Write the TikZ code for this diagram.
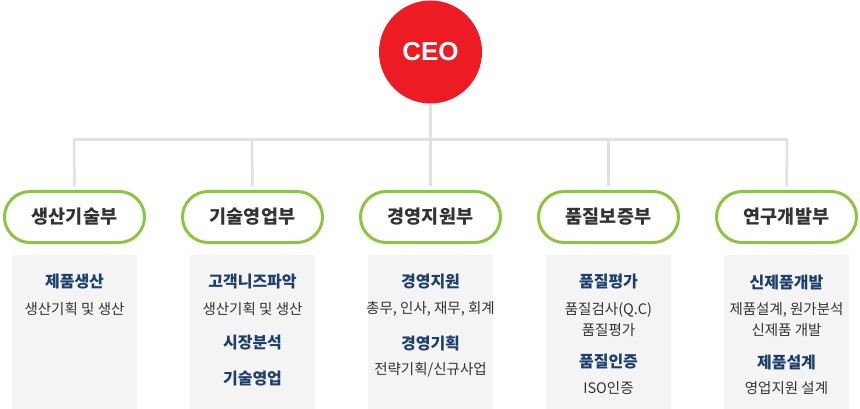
\documentclass[tikz,border=0pt]{standalone}
\usepackage{fontspec}
\usepackage{xcolor}
\setmainfont{Noto Sans CJK KR}
\newfontfamily\ceofont{Liberation Sans}

\definecolor{ceored}{HTML}{ED1C24}
\definecolor{pillgreen}{HTML}{8CC63F}
\definecolor{linegray}{HTML}{E1E1E1}
\definecolor{boxgray}{HTML}{F4F4F4}
\definecolor{headblue}{HTML}{1C3F6E}
\definecolor{textdark}{HTML}{333333}

\tikzset{
  dept/.style={draw=pillgreen, line width=3pt, fill=white, rounded corners=25.5pt,
    minimum width=140pt, minimum height=51pt, inner sep=0pt, outer sep=0pt,
    font=\fontsize{18.5}{20}\selectfont\bfseries, text=textdark},
  taskbox/.style={fill=boxgray, minimum width=125pt, minimum height=154pt,
    inner sep=0pt, outer sep=0pt, anchor=north},
  head/.style={font=\fontsize{16}{18}\selectfont\bfseries, text=headblue, inner sep=0pt},
  body/.style={font=\fontsize{14.5}{16}\selectfont, text=textdark, inner sep=0pt},
  link/.style={draw=linegray, line width=2.5pt}
}

\begin{document}
\begin{tikzpicture}[x=1pt, y=-1pt]

    \useasboundingbox (0,0) rectangle (860,409);

    % Draw the CEO
    \node[circle, fill=ceored, minimum size=103pt, inner sep=0pt, text=white,
      font=\ceofont\fontsize{26}{28}\selectfont\bfseries] (ceo) at (430.5,52) {CEO};

    % Bus line
    \coordinate (bus1) at (74,139.5);
    \coordinate (bus2) at (252,139.5);
    \coordinate (bus3) at (430.5,139.5);
    \coordinate (bus4) at (608.5,139.5);
    \coordinate (bus5) at (787,139.5);

    % Departments
    \node[dept] (d1) at (74.5,217) {생산기술부};
    \node[dept] (d2) at (252.5,217) {기술영업부};
    \node[dept] (d3) at (430.5,217) {경영지원부};
    \node[dept] (d4) at (608.5,217) {품질보증부};
    \node[dept] (d5) at (786.5,217) {연구개발부};

    \draw[link] (ceo.south) -- (bus3);
    \draw[link, line cap=rect] (bus1) -- (bus5);
    \foreach \i in {1,...,5} {
        \draw[link, shorten >=5pt] (bus\i) -- (d\i.north);
    }

    % Gray boxes
    \foreach \i/\x in {1/74.5, 2/252.5, 3/430.5, 4/608.5, 5/786.5} {
        \node[taskbox] (b\i) at (\x,255) {};
    }

    % Box texts
    \node[head] (t11) at ([yshift=-27pt]b1.north) {제품생산};
    \node[body] (t12) at ([yshift=-54pt]b1.north) {생산기획 및 생산};

    \node[head] (t21) at ([yshift=-27pt]b2.north) {고객니즈파악};
    \node[body] (t22) at ([yshift=-54pt]b2.north) {생산기획 및 생산};
    \node[head] (t23) at ([yshift=-88pt]b2.north) {시장분석};
    \node[head] (t24) at ([yshift=-124pt]b2.north) {기술영업};

    \node[head] (t31) at ([yshift=-27pt]b3.north) {경영지원};
    \node[body] (t32) at ([yshift=-54pt]b3.north) {총무, 인사, 재무, 회계};
    \node[head] (t33) at ([yshift=-88pt]b3.north) {경영기획};
    \node[body] (t34) at ([yshift=-115pt]b3.north) {전략기획/신규사업};

    \node[head] (t41) at ([yshift=-27pt]b4.north) {품질평가};
    \node[body] (t42) at ([yshift=-55pt]b4.north) {품질검사(Q.C)};
    \node[body] (t43) at ([yshift=-75pt]b4.north) {품질평가};
    \node[head] (t44) at ([yshift=-107pt]b4.north) {품질인증};
    \node[body] (t45) at ([yshift=-133pt]b4.north) {ISO인증};

    \node[head] (t51) at ([yshift=-27pt]b5.north) {신제품개발};
    \node[body] (t52) at ([yshift=-55pt]b5.north) {제품설계, 원가분석};
    \node[body] (t53) at ([yshift=-75pt]b5.north) {신제품 개발};
    \node[head] (t54) at ([yshift=-107pt]b5.north) {제품설계};
    \node[body] (t55) at ([yshift=-133pt]b5.north) {영업지원 설계};

\end{tikzpicture}
\end{document}
